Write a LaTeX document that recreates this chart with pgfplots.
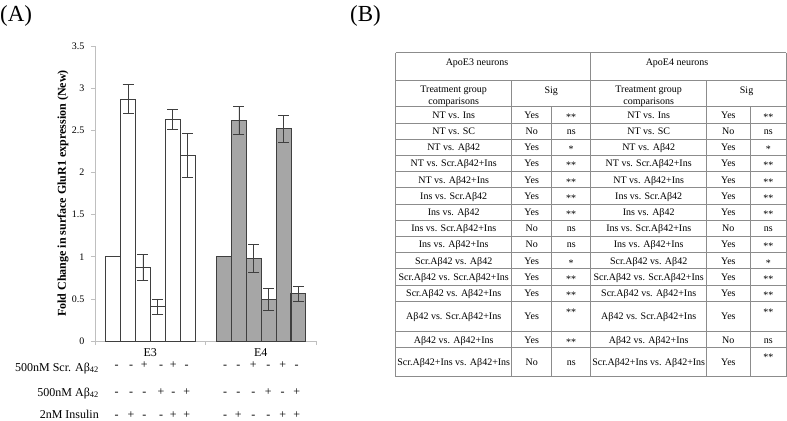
\documentclass[border=0pt]{standalone}
\usepackage{fontspec}
\setmainfont{Liberation Serif}
\usepackage{pgfplots}
\pgfplotsset{compat=1.18}

\definecolor{barline}{HTML}{3F3F3F}
\definecolor{efour}{HTML}{A6A6A6}
\definecolor{axgray}{HTML}{BFBFBF}
\definecolor{tabline}{HTML}{8C8C8C}

\newcommand\fs[1]{\fontsize{#1bp}{#1bp}\selectfont}
% one table row: text baseline, comparison, E3 yes/no, E3 sig baseline, E3 sig, E4 yes/no, E4 sig baseline, E4 sig
\newcommand\trow[8]{%
  \node[anchor=base] at (453.7,#1) {#2};
  \node[anchor=base] at (531.7,#1) {#3};
  \node[anchor=base] at (571.2,#4) {#5};
  \node[anchor=base] at (648.7,#1) {#2};
  \node[anchor=base] at (728.35,#1) {#6};
  \node[anchor=base] at (768.25,#7) {#8};
}

\begin{document}
\begin{tikzpicture}
\path[use as bounding box] (0,0) rectangle (787bp,-421bp);

\begin{axis}[
  at={(95bp,-341bp)}, anchor=south west,
  scale only axis, width=221bp, height=295bp,
  xmin=0, xmax=2, ymin=0, ymax=3.5,
  axis x line*=bottom, axis y line*=left,
  axis line style={axgray, line width=0.7pt},
  tick align=outside, major tick length=4bp,
  tick style={axgray, line width=0.7pt},
  ytick={0,0.5,1,1.5,2,2.5,3,3.5},
  /pgf/number format/assume math mode=true,
  yticklabel style={font=\fs{10}, xshift=-3bp},
  xtick={0,1,2}, xticklabels={},
  extra x ticks={0.5,1.5}, extra x tick labels={E3,E4},
  extra x tick style={major tick length=0pt, xticklabel style={font=\fs{12}, yshift=-4bp}},
  ylabel={Fold Change in surface GluR1 expression (New)},
  every axis y label/.style={at={(rel axis cs:0,0.5)}, xshift=-32bp, rotate=90, anchor=center, font=\bfseries\fs{12}},
  bar width=0.1345,
]
% E3 (white bars)
\addplot[ybar, bar shift=0pt, fill=white, draw=barline, line width=0.7pt]
  coordinates {(0.1642,1.00)};
\addplot[ybar, bar shift=0pt, fill=white, draw=barline, line width=0.7pt,
  error bars/.cd, y dir=both, y explicit,
  error bar style={barline, line width=0.7pt},
  error mark options={rotate=90, barline, mark size=5.5bp, line width=0.7pt}]
  coordinates {
    (0.2989,2.87) +- (0,0.17)
    (0.4336,0.87) +- (0,0.155)
    (0.5683,0.41) +- (0,0.09)
    (0.7030,2.63) +- (0,0.12)
    (0.8377,2.20) +- (0,0.26)
  };
% E4 (grey bars)
\addplot[ybar, bar shift=0pt, fill=efour, draw=barline, line width=0.7pt]
  coordinates {(1.1685,1.00)};
\addplot[ybar, bar shift=0pt, fill=efour, draw=barline, line width=0.7pt,
  error bars/.cd, y dir=both, y explicit,
  error bar style={barline, line width=0.7pt},
  error mark options={rotate=90, barline, mark size=5.5bp, line width=0.7pt}]
  coordinates {
    (1.3027,2.62) +- (0,0.165)
    (1.4369,0.98) +- (0,0.165)
    (1.5711,0.49) +- (0,0.13)
    (1.7053,2.52) +- (0,0.16)
    (1.8395,0.56) +- (0,0.085)
  };
\end{axis}

\begin{scope}[x=1bp, y=-1bp, every node/.style={inner sep=0pt, font=\fs{12}}]
  % panel letters
  \node[anchor=base west, font=\fs{23}] at (0,21.7) {(A)};
  \node[anchor=base west, font=\fs{23}] at (350,21.7) {(B)};

  % treatment rows under the bars
  \node[anchor=base east] at (99,371) {500nM Scr. Aβ\textsubscript{42}};
  \node[anchor=base east] at (99,396) {500nM Aβ\textsubscript{42}};
  \node[anchor=base east] at (99,418) {2nM Insulin};
  \foreach \x/\s in {116.7/-,131/-,144.3/+,161/-,173.3/+,186.7/-,225/-,238.3/-,253.3/+,268.3/-,282.7/+,296.7/-}
    \node[anchor=base] at (\x,368) {\s};
  \foreach \x/\s in {116.7/-,131/-,144.3/-,161/+,173.3/-,186.7/+,225/-,238.3/-,253.3/-,268.3/+,282.7/-,296.7/+}
    \node[anchor=base] at (\x,395.5) {\s};
  \foreach \x/\s in {116.7/-,131/+,144.3/-,161/-,173.3/+,186.7/+,225/-,238.3/+,253.3/-,268.3/-,282.7/+,296.7/+}
    \node[anchor=base] at (\x,418) {\s};
\end{scope}

% table (B)
\begin{scope}[x=1bp, y=-1bp, every node/.style={inner sep=0pt, font=\fs{10}}]
  \foreach \y in {52.7,80,106.7,122.9,139.1,155.3,171.5,187.7,203.9,220.1,236.3,252.5,268.7,284.9,301.1,331.7,347.3,376.7}
    \draw[tabline, line width=0.6pt] (395.7,\y) -- (786.4,\y);
  \foreach \x in {395.7,590.7,786.4}
    \draw[tabline, line width=0.6pt] (\x,52.7) -- (\x,376.7);
  \foreach \x in {511.7,706.7}
    \draw[tabline, line width=0.6pt] (\x,80) -- (\x,376.7);
  \foreach \x in {551.7,750}
    \draw[tabline, line width=0.6pt] (\x,106.7) -- (\x,376.7);

  \node[anchor=base] at (477,65) {ApoE3 neurons};
  \node[anchor=base] at (677,65) {ApoE4 neurons};
  \node[anchor=base] at (453.7,92.8) {Treatment group};
  \node[anchor=base] at (453.7,104.3) {comparisons};
  \node[anchor=base] at (648.7,92.8) {Treatment group};
  \node[anchor=base] at (648.7,104.3) {comparisons};
  \node[anchor=base] at (551.2,93.5) {Sig};
  \node[anchor=base] at (746.6,93.5) {Sig};

  \trow{118.3}{NT vs. Ins}{Yes}{120.3}{**}{Yes}{120.3}{**}
  \trow{134.5}{NT vs. SC}{No}{134.5}{ns}{No}{134.5}{ns}
  \trow{150.7}{NT vs. Aβ42}{Yes}{152.7}{*}{Yes}{152.7}{*}
  \trow{166.9}{NT vs. Scr.Aβ42+Ins}{Yes}{168.9}{**}{Yes}{168.9}{**}
  \trow{183.1}{NT vs. Aβ42+Ins}{Yes}{185.1}{**}{Yes}{185.1}{**}
  \trow{199.3}{Ins vs. Scr.Aβ42}{Yes}{201.3}{**}{Yes}{201.3}{**}
  \trow{215.5}{Ins vs. Aβ42}{Yes}{217.5}{**}{Yes}{217.5}{**}
  \trow{231.7}{Ins vs. Scr.Aβ42+Ins}{No}{231.7}{ns}{No}{231.7}{ns}
  \trow{247.9}{Ins vs. Aβ42+Ins}{No}{247.9}{ns}{Yes}{249.9}{**}
  \trow{264.1}{Scr.Aβ42 vs. Aβ42}{Yes}{266.1}{*}{Yes}{266.1}{*}
  \trow{280.3}{Scr.Aβ42 vs. Scr.Aβ42+Ins}{Yes}{282.3}{**}{Yes}{282.3}{**}
  \trow{296.5}{Scr.Aβ42 vs. Aβ42+Ins}{Yes}{298.5}{**}{Yes}{298.5}{**}
  \trow{319.9}{Aβ42 vs. Scr.Aβ42+Ins}{Yes}{315.3}{**}{Yes}{315.3}{**}
  \trow{343.0}{Aβ42 vs. Aβ42+Ins}{Yes}{345.0}{**}{No}{343.0}{ns}
  \trow{365.5}{Scr.Aβ42+Ins vs. Aβ42+Ins}{No}{365.5}{ns}{Yes}{360.5}{**}
\end{scope}
\end{tikzpicture}
\end{document}
